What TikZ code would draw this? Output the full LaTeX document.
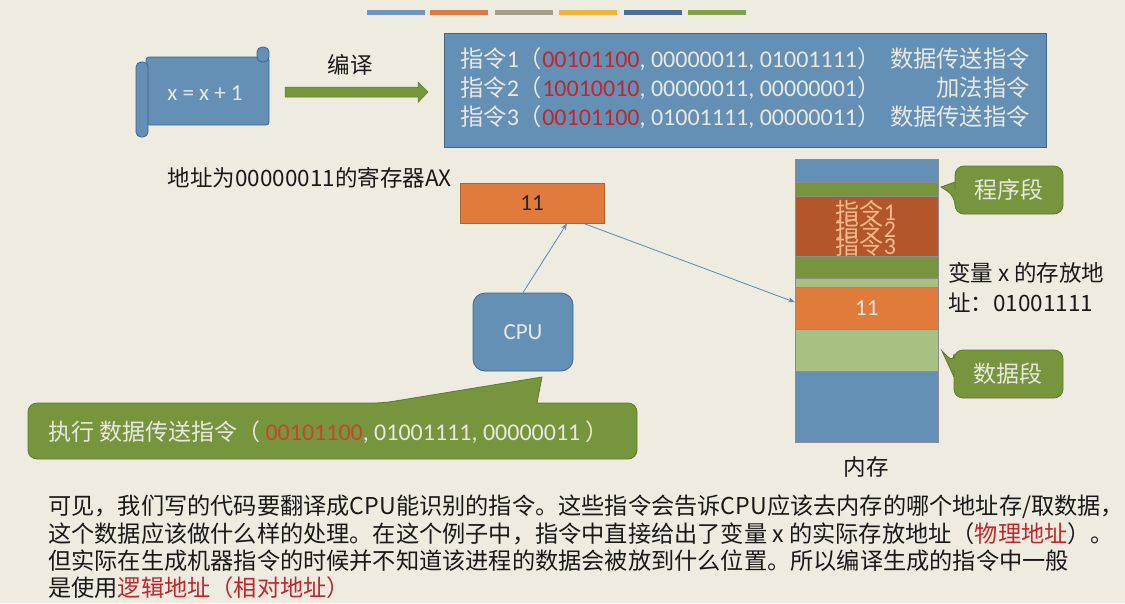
\documentclass[tikz,border=0pt]{standalone}
\usepackage{fontspec}
\setmainfont{Noto Sans CJK SC}
\newfontfamily\carl{Carlito}
\usetikzlibrary{arrows.meta}
\definecolor{bgc}{HTML}{EEECE1}
\definecolor{bblue}{HTML}{6490B6}
\definecolor{bedge}{HTML}{41648C}
\definecolor{oran}{HTML}{E07B3C}
\definecolor{brown}{HTML}{B4562B}
\definecolor{gr}{HTML}{77953D}
\definecolor{grd}{HTML}{5E7A2E}
\definecolor{lgr}{HTML}{A8C082}
\definecolor{lt}{HTML}{E8E8E2}
\definecolor{rd}{HTML}{C0262B}
\definecolor{rd2}{HTML}{C8452A}
\definecolor{arr}{HTML}{5B87B5}
\definecolor{txtor}{HTML}{F2B98A}
\definecolor{bar1}{HTML}{6E96BE}
\definecolor{bar2}{HTML}{D97B43}
\definecolor{bar3}{HTML}{A59F8E}
\definecolor{bar4}{HTML}{EDB33B}
\definecolor{bar5}{HTML}{4A6E9A}
\definecolor{bar6}{HTML}{7FA14A}
\newcommand{\rt}[1]{{\color{rd}#1}}
\newcommand{\dg}[1]{{\carl\fontsize{24}{26}\selectfont #1}}
\tikzset{
  bluebox/.style={fill=bblue, draw=bedge, line width=0.8pt, inner sep=0pt},
  segbox/.style={draw=black!45, line width=0.5pt, inner sep=0pt, minimum width=143pt, anchor=north west},
  callout/.style={fill=gr, draw=grd, line width=0.8pt},
  thinarrow/.style={draw=arr, line width=0.8pt, -{Stealth[length=7pt,width=5pt]}},
  lbl/.style={font=\fontsize{22.5}{26}\selectfont, text=black!90, inner sep=0pt},
  para/.style={font=\fontsize{23.2}{27}\selectfont, text=black!90, anchor=west, inner sep=0pt},
}
\begin{document}
\begin{tikzpicture}[x=1pt,y=-1pt]
\useasboundingbox (0,0) rectangle (1125,603);
\fill[bgc] (0,0) rectangle (1125,603);
% top bars
\foreach \xa/\c in {367/bar1,430/bar2,495/bar3,559/bar4,624/bar5,688/bar6}
  \fill[\c] (\xa,10) rectangle ++(58,5);
% scroll
\draw[bluebox, rounded corners=3pt] (146,57) rectangle (269,125);
\draw[bluebox, rounded corners=5pt] (136,62) rectangle (148,137);
\draw[bluebox, rounded corners=5pt] (257,47) rectangle (269,62);
\node[text=lt, font=\carl\fontsize{23}{26}\selectfont] (scroll) at (205,93) {x = x + 1};
% compile arrow
\node[lbl] (bianyi) at (350,65) {编译};
\coordinate (ca) at (285,92);
\coordinate (cb) at (428,92);
\fill[gr, draw=grd, line width=0.5pt] (ca) ++(0,-5) -- ++(133,0) -- ++(0,-5) -- (cb) -- ++(-10,10.5) -- ++(0,-5.5) -- ++(-133,0) -- cycle;
% instruction box
\node[bluebox, minimum width=602pt, minimum height=114pt, anchor=north west] (instr) at (444,33) {};
\begin{scope}[every node/.style={text=lt, inner sep=0pt, font=\fontsize{23.3}{26}\selectfont}]
\node[anchor=west] (i1) at (460,59) {指令\dg{1}（\dg{\rt{00101100}, 00000011, 01001111}）};
\node[anchor=west] (i2) at (460,88) {指令\dg{2}（\dg{\rt{10010010}, 00000011, 00000001}）};
\node[anchor=west] (i3) at (460,117) {指令\dg{3}（\dg{\rt{00101100}, 01001111, 00000011}）};
\node[anchor=east] (d1) at (1030,59) {数据传送指令};
\node[anchor=east] (d2) at (1030,88) {加法指令};
\node[anchor=east] (d3) at (1030,117) {数据传送指令};
\end{scope}
% AX register
\node[lbl, anchor=east] (axlbl) at (452,178) {地址为00000011的寄存器AX};
\node[fill=oran, draw=oran!80!black, line width=0.6pt, minimum width=144pt, minimum height=40pt, inner sep=0pt, font=\carl\fontsize{23}{26}\selectfont, text=black!85] (ax) at (532,203) {11};
% CPU
\node[bluebox, rounded corners=12pt, minimum width=100pt, minimum height=78pt, font=\carl\fontsize{23}{26}\selectfont, text=lt] (cpu) at (523,332) {CPU};
% memory column
\node[segbox, fill=bblue, minimum height=23pt] (m1) at (795,159) {};
\node[segbox, fill=gr, minimum height=14pt] (m2) at (795,182) {};
\node[segbox, fill=brown, minimum height=60pt] (m3) at (795,196) {};
\node[segbox, fill=gr, minimum height=22pt] (m4) at (795,256) {};
\node[segbox, fill=lgr, minimum height=9pt] (m5) at (795,278) {};
\node[segbox, fill=oran, minimum height=42pt, font=\carl\fontsize{23}{26}\selectfont, text=lt] (memx) at (795,287) {11};
\node[segbox, fill=lgr, minimum height=42pt] (m7) at (795,329) {};
\node[segbox, fill=bblue, minimum height=71pt] (m8) at (795,371) {};
\begin{scope}
\clip (795,196) rectangle (938,256);
\node[text=txtor, inner sep=0pt, font=\fontsize{24}{26}\selectfont] (t1) at (866,211) {指令{\carl 1}};
\node[text=txtor, inner sep=0pt, font=\fontsize{24}{26}\selectfont] (t2) at (866,228) {指令{\carl 2}};
\node[text=txtor, inner sep=0pt, font=\fontsize{24}{26}\selectfont] (t3) at (866,245) {指令{\carl 3}};
\end{scope}
\node[lbl] (neicun) at (866,467) {内存};
\node[lbl, anchor=west] (v1) at (948,273) {变量 x 的存放地};
\node[lbl, anchor=west] (v2) at (948,303) {址：01001111};
% callouts
\draw[callout, rounded corners=9pt] (955,190) -- (955,166) -- (1063,166) -- (1063,214) -- (955,214) -- (955,196) [sharp corners] -- (941,187) -- (955,182) -- cycle;
\node[text=lt, inner sep=0pt, font=\fontsize{23}{26}\selectfont] (cx) at (1009,190) {程序段};
\draw[callout, rounded corners=9pt] (954,370) -- (954,398) -- (1063,398) -- (1063,350) -- (954,350) -- (954,363) [sharp corners] -- (942,351) -- (954,377) -- cycle;
\node[text=lt, inner sep=0pt, font=\fontsize{23}{26}\selectfont] (sj) at (1008,374) {数据段};
\draw[callout, rounded corners=9pt] (28,430) -- (28,403) -- (383,403) [sharp corners] -- (542,377) -- (537,403) [rounded corners=9pt] -- (637,403) -- (637,459) -- (28,459) -- cycle;
\node[anchor=west, text=lt, inner sep=0pt, font=\fontsize{23}{26}\selectfont] (exec) at (48,432) {执行 数据传送指令（ \dg{{\color{rd2}00101100}, 01001111, 00000011} ）};
% connectors
\draw[thinarrow] (cpu.north) -- ([xshift=35pt]ax.south);
\draw[thinarrow] ([xshift=-21pt]ax.south east) -- ([yshift=6pt]memx.west);
% paragraph
\node[para] (p1) at (48,507) {可见，我们写的代码要翻译成CPU能识别的指令。这些指令会告诉CPU应该去内存的哪个地址存/取数据，};
\node[para] (p2) at (48,534) {这个数据应该做什么样的处理。在这个例子中，指令中直接给出了变量 x 的实际存放地址（\rt{物理地址}）。};
\node[para] (p3) at (48,561) {但实际在生成机器指令的时候并不知道该进程的数据会被放到什么位置。所以编译生成的指令中一般};
\node[para] (p4) at (48,588) {是使用\rt{逻辑地址（相对地址）}};
\end{tikzpicture}
\end{document}
